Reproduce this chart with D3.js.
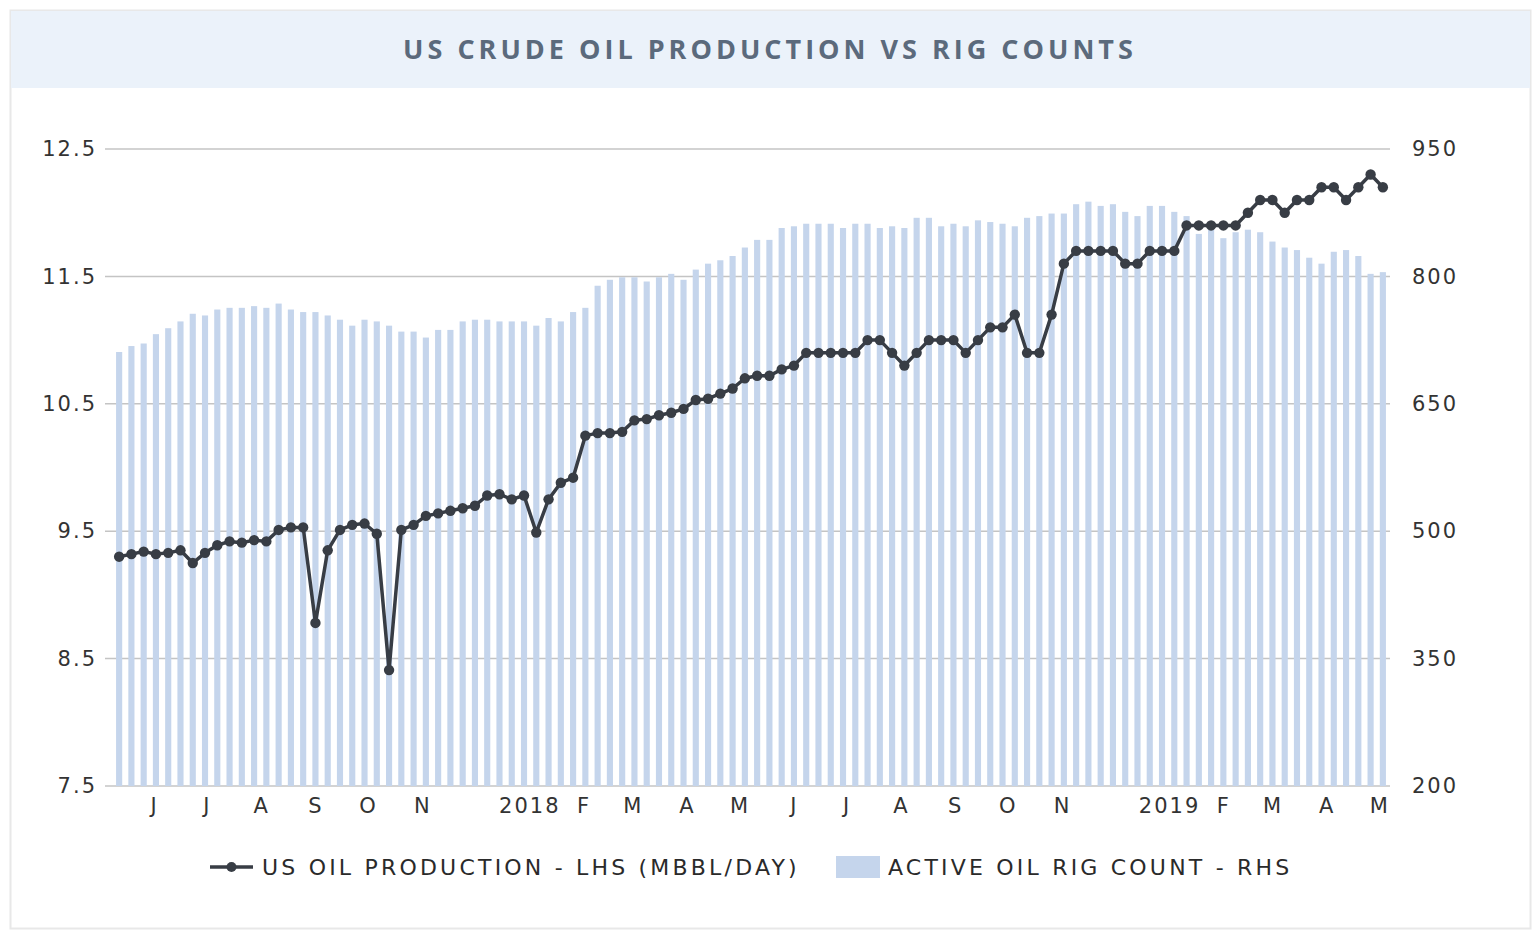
<!DOCTYPE html>
<html lang="en">
<head>
<meta charset="utf-8">
<title>US Crude Oil Production vs Rig Counts</title>
<script src="https://d3js.org/d3.v7.min.js"></script>
<style>
  body { margin: 0; background: #fff; }
  .title_styling {
    font-family: "Open Sans", sans-serif;
    font-weight: 700;
    font-size: 27px;
    letter-spacing: 4px;
    fill: #5b6a7c;
  }
  .tick text, .legend_text {
    font-family: "DejaVu Sans", Verdana, sans-serif;
    font-size: 21px;
    letter-spacing: 2px;
    fill: #333;
  }
  .legend_text {
    font-size: 22px;
    letter-spacing: 3.2px;
    fill: #2a2a2a;
  }
  .domain { display: none; }
</style>
</head>
<body>
<div id="chart"></div>
<script>
// weekly observations, Fridays 12 May 2017 .. 3 May 2019
const weeks = d3.timeFriday.range(new Date(2017, 4, 12), new Date(2019, 4, 4));

// US oil production, million bbl/day (left axis)
const production = [
  9.30, 9.32, 9.34, 9.32, 9.33, 9.35, 9.25, 9.33, 9.39, 9.42, 9.41, 9.43, 9.42, 9.51, 9.53, 9.53,
  8.78, 9.35, 9.51, 9.55, 9.56, 9.48, 8.41, 9.51, 9.55, 9.62,
  9.64, 9.66, 9.68, 9.70, 9.78, 9.79, 9.75, 9.78, 9.49, 9.75, 9.88, 9.92,
  10.25, 10.27, 10.27, 10.28, 10.37, 10.38, 10.41, 10.43, 10.46, 10.53, 10.54, 10.58, 10.62, 10.70, 10.72,
  10.72, 10.77, 10.80,
  10.9, 10.9, 10.9, 10.9, 10.9, 11.0, 11.0, 10.9, 10.8, 10.9, 11.0, 11.0, 11.0, 10.9, 11.0, 11.1, 11.1, 11.2, 10.9, 10.9, 11.2, 11.6,
  11.7, 11.7, 11.7, 11.7, 11.6, 11.6, 11.7, 11.7, 11.7, 11.9, 11.9, 11.9, 11.9, 11.9, 12.0, 12.1, 12.1, 12.0, 12.1, 12.1, 12.2, 12.2, 12.1, 12.2, 12.3, 12.2
];

// active oil rig count (right axis)
const rigs = [
  711, 718, 721, 732, 739, 747, 756, 754, 761, 763, 763, 765, 763, 768, 761, 758, 758, 754, 749, 742,
  749, 747, 742, 735, 735, 728, 737,
  737, 747, 749, 749, 747, 747, 747, 742, 751, 747, 758, 763, 789, 796, 799, 799, 794, 799, 803, 796,
  808, 815, 819, 824, 834, 843,
  843, 857, 859, 862, 862, 862, 857, 862, 862, 857, 859, 857, 869, 869, 859, 862, 859, 866, 864, 862,
  859, 869, 871, 874, 874, 885,
  888, 883, 885, 876, 871, 883, 883, 876, 871, 850, 858, 845, 852, 855, 852, 841, 834, 831, 822, 815,
  829, 831, 824, 803, 805
];

// x axis month labels (December is not labelled)
const tickDates = ["2017-06-01", "2017-07-01", "2017-08-01", "2017-09-01", "2017-10-01", "2017-11-01",
  "2018-01-01", "2018-02-01", "2018-03-01", "2018-04-01", "2018-05-01", "2018-06-01", "2018-07-01",
  "2018-08-01", "2018-09-01", "2018-10-01", "2018-11-01",
  "2019-01-01", "2019-02-01", "2019-03-01", "2019-04-01", "2019-05-01"];
const tickLabels = ["J", "J", "A", "S", "O", "N", "2018", "F", "M", "A", "M", "J", "J",
  "A", "S", "O", "N", "2019", "F", "M", "A", "M"];

const leftTicks = [7.5, 8.5, 9.5, 10.5, 11.5, 12.5];
const rightTicks = [200, 350, 500, 650, 800, 950];

const lineName = "US OIL PRODUCTION - LHS (MBBL/DAY)";
const barName = "ACTIVE OIL RIG COUNT - RHS";

const width = 1540;
const height = 940;
const plotLeft = 113;
const plotRight = 1389;
const plotTop = 149;
const plotBottom = 786;
const gridLeft = 105;
const gridRight = 1390;

const barColor = "#c5d5ec";
const lineColor = "#383d45";

const svg = d3.select("#chart")
  .append("svg")
  .attr("width", width)
  .attr("height", height);

// frame and title band
svg.append("rect")
  .attr("x", 10.5).attr("y", 10.5)
  .attr("width", 1520).attr("height", 918)
  .attr("fill", "#fff")
  .attr("stroke", "#e8e8e8")
  .attr("stroke-width", 2);
svg.append("rect")
  .attr("x", 11).attr("y", 11)
  .attr("width", 1519).attr("height", 77)
  .attr("fill", "#ebf2fa");
svg.append("text")
  .attr("class", "title_styling")
  .attr("x", 770).attr("y", 59)
  .attr("text-anchor", "middle")
  .text("US CRUDE OIL PRODUCTION VS RIG COUNTS");

// scales
const x = d3.scaleBand()
  .domain(weeks)
  .range([plotLeft, plotRight])
  .paddingInner(0.5)
  .paddingOuter(0.25);
const half = x.bandwidth() / 2;

const xTime = d3.scaleTime()
  .domain([weeks[0], weeks[weeks.length - 1]])
  .range([x(weeks[0]) + half, x(weeks[weeks.length - 1]) + half]);

const yLeft = d3.scaleLinear().domain([7.5, 12.5]).range([plotBottom, plotTop]);
const yRight = d3.scaleLinear().domain([200, 950]).range([plotBottom, plotTop]);

// gridlines
svg.append("g")
  .selectAll("line")
  .data(leftTicks)
  .join("line")
  .attr("x1", gridLeft).attr("x2", gridRight)
  .attr("y1", d => yLeft(d)).attr("y2", d => yLeft(d))
  .attr("stroke", "#c4c4c4")
  .attr("stroke-width", 1.5);

// bars
svg.append("g")
  .selectAll("rect")
  .data(weeks)
  .join("rect")
  .attr("x", d => x(d))
  .attr("width", x.bandwidth())
  .attr("y", (d, i) => yRight(rigs[i]))
  .attr("height", (d, i) => plotBottom - yRight(rigs[i]))
  .attr("fill", barColor);

// production line
const line = d3.line()
  .x((d, i) => x(weeks[i]) + half)
  .y(d => yLeft(d));

svg.append("path")
  .datum(production)
  .attr("d", line)
  .attr("fill", "none")
  .attr("stroke", lineColor)
  .attr("stroke-width", 3.5)
  .attr("stroke-linejoin", "round");

svg.append("g")
  .selectAll("circle")
  .data(production)
  .join("circle")
  .attr("cx", (d, i) => x(weeks[i]) + half)
  .attr("cy", d => yLeft(d))
  .attr("r", 5.2)
  .attr("fill", lineColor);

// axes
const parse = d3.timeParse("%Y-%m-%d");
const xAxis = d3.axisBottom(xTime)
  .tickValues(tickDates.map(parse))
  .tickFormat((d, i) => tickLabels[i])
  .tickSize(0)
  .tickPadding(12);
svg.append("g")
  .attr("transform", "translate(0," + plotBottom + ")")
  .call(xAxis);

svg.append("g")
  .attr("transform", "translate(" + (gridLeft - 8) + ",0)")
  .call(d3.axisLeft(yLeft).tickValues(leftTicks).tickFormat(d3.format(".1f")).tickSize(0).tickPadding(0));

svg.append("g")
  .attr("transform", "translate(1412,0)")
  .call(d3.axisRight(yRight).tickValues(rightTicks).tickSize(0).tickPadding(0));

// legend
const legend = svg.append("g").attr("transform", "translate(0,867)");
legend.append("line")
  .attr("x1", 210).attr("x2", 253)
  .attr("stroke", lineColor).attr("stroke-width", 3.5);
legend.append("circle")
  .attr("cx", 231.5).attr("r", 5).attr("fill", lineColor);
legend.append("text")
  .attr("class", "legend_text")
  .attr("x", 262).attr("dy", "0.36em")
  .text(lineName);
legend.append("rect")
  .attr("x", 836).attr("y", -11)
  .attr("width", 44).attr("height", 22)
  .attr("fill", barColor);
legend.append("text")
  .attr("class", "legend_text")
  .attr("x", 888).attr("dy", "0.36em")
  .text(barName);
</script>
</body>
</html>
